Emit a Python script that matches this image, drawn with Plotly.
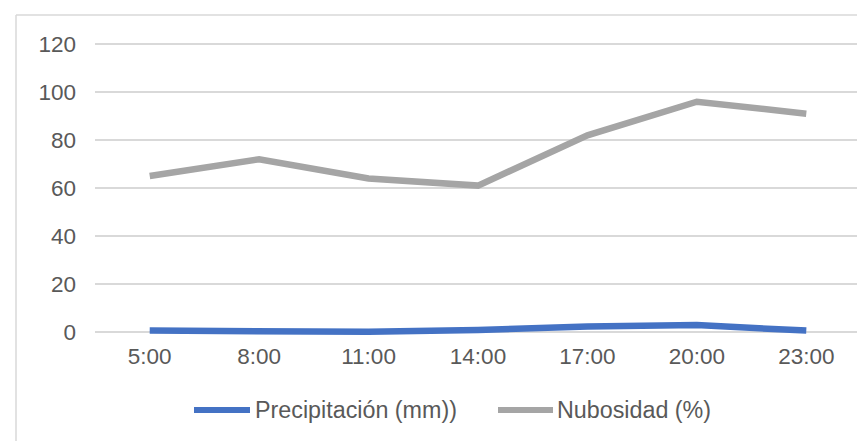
import plotly.graph_objects as go

# ---- data ----
hours = ["5:00", "8:00", "11:00", "14:00", "17:00", "20:00", "23:00"]
precipitacion = [0.5, 0.0, 0.0, 0.8, 2.2, 2.8, 0.5]
nubosidad = [65, 72, 64, 61, 82, 96, 91]
series_names = ["Precipitación (mm))", "Nubosidad (%)"]
y_ticks = [0, 20, 40, 60, 80, 100, 120]

BLUE = "#4472C4"
GRAY = "#A5A5A5"
TXT = "#595959"
GRID = "#D9D9D9"
FONT = "Liberation Sans, Arial, sans-serif"
FS = 22.5
FS_LEG = 23.3

OFF = 8  # page body margin
W, H = 865 - OFF, 441 - OFF
ML, MR, MT, MB = 95 - OFF, 4, 37 - OFF, 102
pw = W - ML - MR
ph = H - MT - MB


def px(x):
    return (x - OFF - ML) / pw


def py(y):
    return (H - MB - (y - OFF)) / ph


fig = go.Figure()
fig.add_trace(go.Scatter(x=hours, y=nubosidad, mode="lines", name=series_names[1],
                         line=dict(color=GRAY, width=6.5), showlegend=False))
fig.add_trace(go.Scatter(x=hours, y=precipitacion, mode="lines", name=series_names[0],
                         line=dict(color=BLUE, width=6.5), showlegend=False))

shapes = [
    # outer chart frame (top and left edges)
    dict(type="line", xref="paper", yref="paper", x0=px(16), x1=px(866), y0=py(15), y1=py(15),
         line=dict(color=GRID, width=1.5)),
    dict(type="line", xref="paper", yref="paper", x0=px(16), x1=px(16), y0=py(15), y1=py(445),
         line=dict(color=GRID, width=1.5)),
    # legend symbols
    dict(type="line", xref="paper", yref="paper", x0=px(194), x1=px(250), y0=py(410), y1=py(410),
         line=dict(color=BLUE, width=6)),
    dict(type="line", xref="paper", yref="paper", x0=px(498), x1=px(553), y0=py(410), y1=py(410),
         line=dict(color=GRAY, width=6)),
]
annotations = [
    dict(text=series_names[0], xref="paper", yref="paper", x=px(253), y=py(410),
         xanchor="left", yanchor="middle", showarrow=False, font=dict(size=FS_LEG, color=TXT, family=FONT)),
    dict(text=series_names[1], xref="paper", yref="paper", x=px(555), y=py(410),
         xanchor="left", yanchor="middle", showarrow=False, font=dict(size=FS_LEG, color=TXT, family=FONT)),
]

fig.update_layout(
    width=W, height=H,
    margin=dict(l=ML, r=MR, t=MT, b=MB),
    paper_bgcolor="white", plot_bgcolor="white",
    font=dict(family=FONT, size=FS, color=TXT),
    shapes=shapes, annotations=annotations,
    showlegend=False,
)
fig.update_xaxes(type="category", range=[-0.5, 6.5], showgrid=False, showline=False,
                 ticks="", ticklabelstandoff=1, tickfont=dict(size=FS, color=TXT))
fig.update_yaxes(range=[-3, 123], tickvals=y_ticks, showgrid=True, gridcolor=GRID, gridwidth=1.5,
                 zeroline=False, showline=False, ticks="", ticklabelstandoff=18,
                 tickfont=dict(size=FS, color=TXT))

fig.write_html("out.html")
